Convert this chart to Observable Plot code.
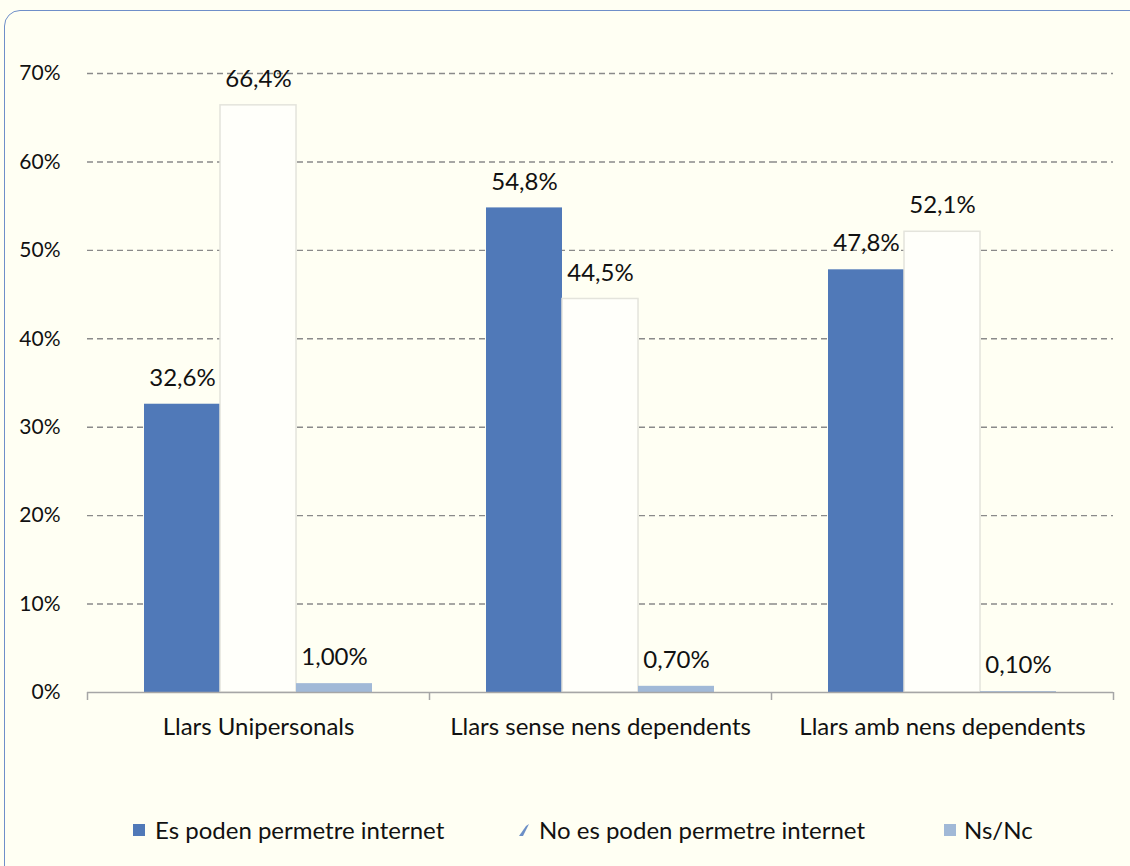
<!DOCTYPE html>
<html>
<head>
<meta charset="utf-8">
<script src="https://cdn.jsdelivr.net/npm/d3@7"></script>
<script src="https://cdn.jsdelivr.net/npm/@observablehq/plot@0.6"></script>
<style>
  html, body { margin: 0; padding: 0; background: #FFFFF3; }
  #wrap { position: relative; width: 1130px; height: 866px; overflow: hidden; background: #FFFFF3; font-family: Lato, "Open Sans", sans-serif; color: #111; }
  #frame { position: absolute; left: 4px; top: 10px; width: 1200px; height: 1000px; border: 1.5px solid #6F8FC9; border-radius: 16px; box-sizing: border-box; }
  #chart { position: absolute; left: 0; top: 0; }
  #legend { position: absolute; left: 0; top: 770px; width: 1130px; height: 96px; font-size: 24px; }
  #legend .sw { position: absolute; top: 54px; width: 12px; height: 12px; display: block; }
  #legend .txt { position: absolute; white-space: nowrap; line-height: 30px; top: 45px; }
</style>
</head>
<body>
<div id="wrap">
  <div id="frame"></div>
  <div id="chart"></div>
  <div id="legend"></div>
</div>
<script>
const categories = ["Llars Unipersonals", "Llars sense nens dependents", "Llars amb nens dependents"];
const series = ["Es poden permetre internet", "No es poden permetre internet", "Ns/Nc"];
const esPoden = [32.6, 54.8, 47.8];
const noPoden = [66.4, 44.5, 52.1];
const nsnc = [1.0, 0.7, 0.1];
const yTicks = [0, 10, 20, 30, 40, 50, 60, 70];
const colors = ["#5079B8", "#FFFFFA", "#A1B9D7"];
const decimals = [1, 1, 2];

const valuesBySeries = [esPoden, noPoden, nsnc];
const data = [];
categories.forEach((c, i) => {
  series.forEach((s, j) => {
    const v = valuesBySeries[j][i];
    data.push({cat: c, series: s, value: v, label: v.toFixed(decimals[j]).replace(".", ",") + "%"});
  });
});

const chart = Plot.plot({
  width: 1130,
  height: 770,
  marginLeft: 87,
  marginRight: 17,
  marginTop: 73,
  marginBottom: 78,
  style: {background: "transparent", fontFamily: "Lato, 'Open Sans', sans-serif", color: "#111", overflow: "visible"},
  fx: {domain: categories, padding: 0, label: null},
  x: {domain: series, paddingInner: 0, paddingOuter: 0.75, axis: null},
  y: {domain: [0, 70], axis: null},
  color: {domain: series, range: colors},
  marks: [
    Plot.ruleY(yTicks.filter(d => d > 0), {stroke: "#8a8a8a", strokeWidth: 1.4, strokeDasharray: "6,4"}),
    Plot.axisY({ticks: yTicks, tickFormat: d => d + "%", tickSize: 0, tickPadding: 27, fontSize: 21, label: null, fill: "#111"}),
    Plot.barY(data, {
      fx: "cat", x: "series", y: "value", fill: "series",
      stroke: d => d.series === series[1] ? "#e4e4dc" : "none",
      strokeWidth: 1.5
    }),
    Plot.ruleY([0], {stroke: "#a6a6a6", strokeWidth: 1.5}),
    Plot.ruleX(categories, {fx: d => d, x: () => series[0], y1: 0, y2: 0, insetBottom: -8, dx: -95, stroke: "#a6a6a6", strokeWidth: 1.5}),
    Plot.ruleX([categories[2]], {fx: d => d, x: () => series[2], y1: 0, y2: 0, insetBottom: -8, dx: 95, stroke: "#a6a6a6", strokeWidth: 1.5}),
    Plot.text(data, {fx: "cat", x: "series", y: "value", text: "label", dy: -26, fontSize: 24, fill: "#111"}),
    Plot.axisFx({anchor: "bottom", tickSize: 0, tickPadding: 25, fontSize: 24, label: null, fill: "#111"})
  ]
});
document.getElementById("chart").appendChild(chart);

// legend
const legend = document.getElementById("legend");
const swatchLeft = [133, 518, 944];
const textLeft = [155, 539, 964];
series.forEach((s, j) => {
  let sw;
  if (j === 1) {
    sw = document.createElementNS("http://www.w3.org/2000/svg", "svg");
    sw.setAttribute("width", "12"); sw.setAttribute("height", "14");
    sw.style.position = "absolute"; sw.style.left = swatchLeft[j] + "px"; sw.style.top = "53px";
    const p = document.createElementNS("http://www.w3.org/2000/svg", "path");
    p.setAttribute("d", "M1,13 L8,3 L11,1 L5,13 Z");
    p.setAttribute("fill", "#6C8FC6");
    sw.appendChild(p);
  } else {
    sw = document.createElement("span");
    sw.className = "sw";
    sw.style.left = swatchLeft[j] + "px";
    sw.style.background = colors[j];
  }
  legend.appendChild(sw);
  const t = document.createElement("span");
  t.className = "txt";
  t.style.left = textLeft[j] + "px";
  t.textContent = s;
  legend.appendChild(t);
});
</script>
</body>
</html>
